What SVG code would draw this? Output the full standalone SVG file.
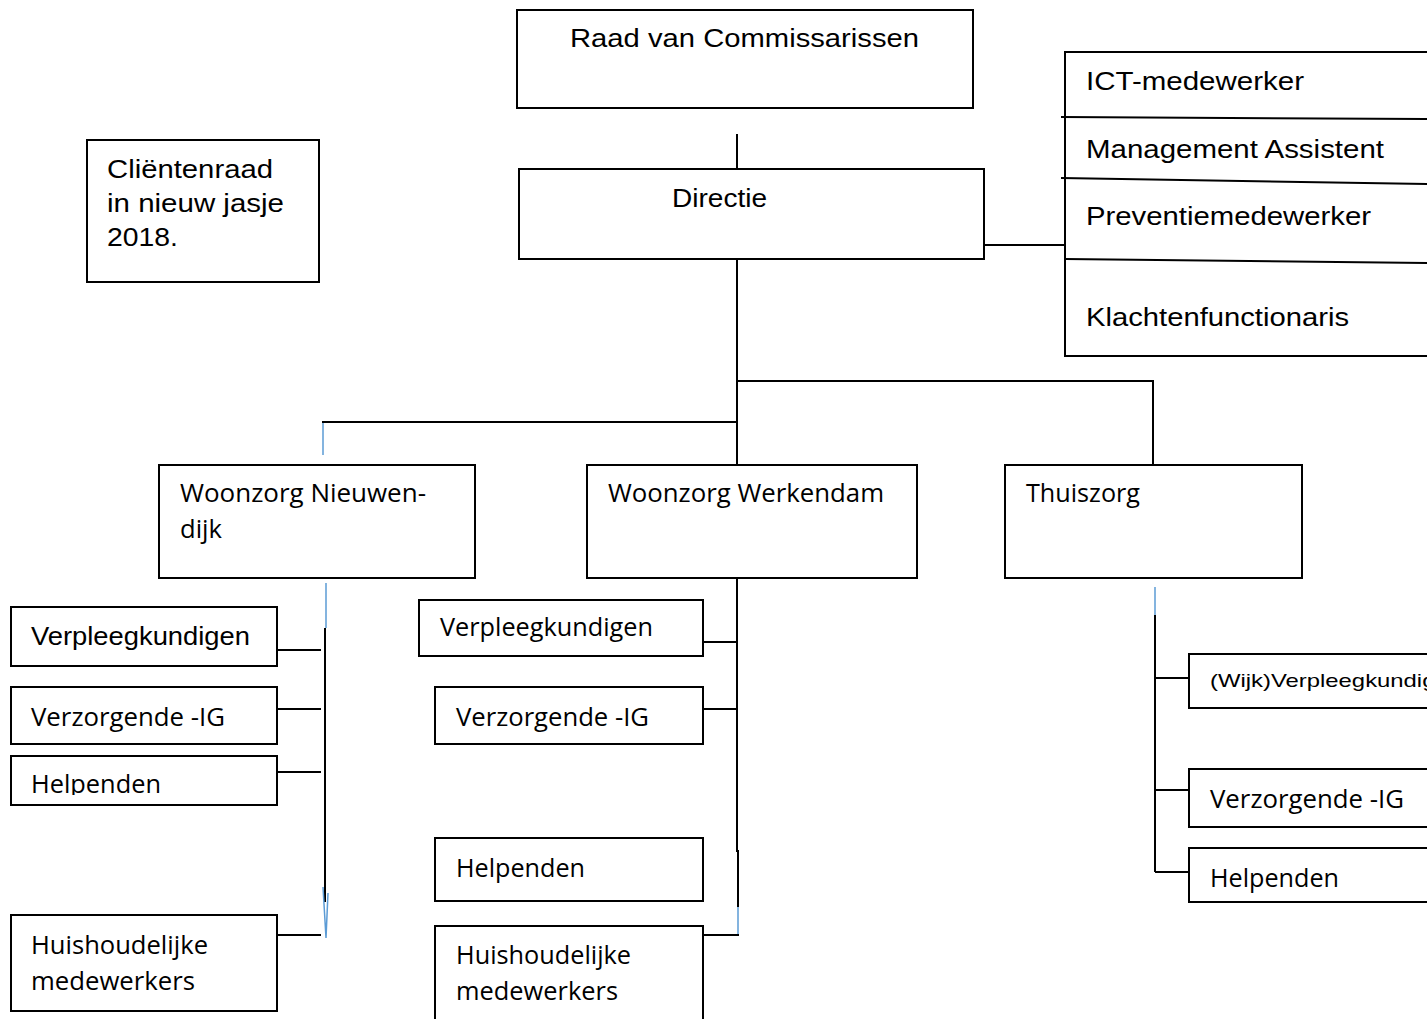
<svg xmlns="http://www.w3.org/2000/svg" width="1427" height="1019" viewBox="0 0 1427 1019">
<style>
.box{fill:#fff;stroke:#000;stroke-width:2}
.ln{stroke:#000;stroke-width:2;fill:none}
.bl{stroke:#5B9BD5;stroke-width:1.5;fill:none}
.a{font-family:"Liberation Sans",Arial,sans-serif;font-size:26px;fill:#000}
.c{font-family:"Open Sans","Noto Sans",sans-serif;font-size:25px;fill:#000}
.s{font-family:"Liberation Sans",Arial,sans-serif;font-size:19px;fill:#000}
</style>
<defs>
<clipPath id="clipHelp"><rect x="11" y="756" width="266" height="39"/></clipPath>
</defs>
<rect width="1427" height="1019" fill="#fff"/>
<g id="connectors">
<line class="ln" x1="737" y1="134" x2="737" y2="169"/>
<line class="ln" x1="984" y1="245" x2="1065" y2="245"/>
<line class="ln" x1="737" y1="259" x2="737" y2="465"/>
<polyline class="ln" points="737,381 1153,381 1153,465"/>
<line class="ln" x1="322" y1="422" x2="737" y2="422"/>
<line class="bl" x1="323" y1="423" x2="323" y2="455"/>
<line class="bl" x1="326" y1="583" x2="326" y2="628"/>
<line class="ln" x1="325" y1="628" x2="325" y2="902"/>
<polyline class="bl" points="323,887 326,938 328,893"/>
<line class="ln" x1="277" y1="650" x2="321" y2="650"/>
<line class="ln" x1="277" y1="709" x2="321" y2="709"/>
<line class="ln" x1="277" y1="772" x2="321" y2="772"/>
<line class="ln" x1="277" y1="935" x2="321" y2="935"/>
<line class="ln" x1="737" y1="578" x2="737" y2="852"/>
<line class="ln" x1="738" y1="850" x2="738" y2="907"/>
<line class="bl" x1="738" y1="907" x2="738" y2="935"/>
<line class="ln" x1="703" y1="642" x2="737" y2="642"/>
<line class="ln" x1="703" y1="709" x2="737" y2="709"/>
<line class="ln" x1="703" y1="935" x2="739" y2="935"/>
<line class="bl" x1="1155" y1="587" x2="1155" y2="615"/>
<line class="ln" x1="1155" y1="615" x2="1155" y2="872"/>
<line class="ln" x1="1155" y1="678" x2="1189" y2="678"/>
<line class="ln" x1="1155" y1="790" x2="1189" y2="790"/>
<line class="ln" x1="1155" y1="872" x2="1189" y2="872"/>
</g>
<g id="raad">
<rect class="box" x="517" y="10" width="456" height="98"/>
<text class="a" x="570" y="47" textLength="349" lengthAdjust="spacingAndGlyphs">Raad van Commissarissen</text>
</g>
<g id="directie">
<rect class="box" x="519" y="169" width="465" height="90"/>
<text class="a" x="672" y="207" textLength="95" lengthAdjust="spacingAndGlyphs">Directie</text>
</g>
<g id="clientenraad">
<rect class="box" x="87" y="140" width="232" height="142"/>
<text class="a" x="107" y="178" textLength="166" lengthAdjust="spacingAndGlyphs">Cliëntenraad</text>
<text class="a" x="107" y="212" textLength="177" lengthAdjust="spacingAndGlyphs">in nieuw jasje</text>
<text class="a" x="107" y="246" textLength="71" lengthAdjust="spacingAndGlyphs">2018.</text>
</g>
<g id="staf">
<rect class="box" x="1065" y="52" width="380" height="304"/>
<line class="ln" x1="1061" y1="117" x2="1427" y2="119"/>
<line class="ln" x1="1061" y1="178" x2="1427" y2="184"/>
<line class="ln" x1="1065" y1="259" x2="1427" y2="263"/>
<text class="a" x="1086" y="90" textLength="218" lengthAdjust="spacingAndGlyphs">ICT-medewerker</text>
<text class="a" x="1086" y="158" textLength="298" lengthAdjust="spacingAndGlyphs">Management Assistent</text>
<text class="a" x="1086" y="225" textLength="285" lengthAdjust="spacingAndGlyphs">Preventiemedewerker</text>
<text class="a" x="1086" y="326" textLength="263" lengthAdjust="spacingAndGlyphs">Klachtenfunctionaris</text>
</g>
<g id="woonzorg-nieuwendijk">
<rect class="box" x="159" y="465" width="316" height="113"/>
<text class="c" x="180" y="502" textLength="246" lengthAdjust="spacingAndGlyphs">Woonzorg Nieuwen-</text>
<text class="c" x="180" y="538" textLength="42" lengthAdjust="spacingAndGlyphs">dijk</text>
</g>
<g id="woonzorg-werkendam">
<rect class="box" x="587" y="465" width="330" height="113"/>
<text class="c" x="608" y="502" textLength="276" lengthAdjust="spacingAndGlyphs">Woonzorg Werkendam</text>
</g>
<g id="thuiszorg">
<rect class="box" x="1005" y="465" width="297" height="113"/>
<text class="c" x="1026" y="502" textLength="114" lengthAdjust="spacingAndGlyphs">Thuiszorg</text>
</g>
<g id="wn-verpleegkundigen">
<rect class="box" x="11" y="607" width="266" height="59"/>
<text class="a" x="31" y="645" textLength="219" lengthAdjust="spacingAndGlyphs">Verpleegkundigen</text>
</g>
<g id="wn-verzorgende">
<rect class="box" x="11" y="687" width="266" height="57"/>
<text class="c" x="31" y="726" textLength="194" lengthAdjust="spacingAndGlyphs">Verzorgende -IG</text>
</g>
<g id="wn-helpenden">
<rect class="box" x="11" y="756" width="266" height="49"/>
<text class="c" x="31" y="793" textLength="130" lengthAdjust="spacingAndGlyphs" clip-path="url(#clipHelp)">Helpenden</text>
</g>
<g id="wn-huishoudelijk">
<rect class="box" x="11" y="915" width="266" height="96"/>
<text class="c" x="31" y="954" textLength="177" lengthAdjust="spacingAndGlyphs">Huishoudelijke</text>
<text class="c" x="31" y="990" textLength="164" lengthAdjust="spacingAndGlyphs">medewerkers</text>
</g>
<g id="ww-verpleegkundigen">
<rect class="box" x="419" y="600" width="284" height="56"/>
<text class="c" x="440" y="636" textLength="213" lengthAdjust="spacingAndGlyphs">Verpleegkundigen</text>
</g>
<g id="ww-verzorgende">
<rect class="box" x="435" y="687" width="268" height="57"/>
<text class="c" x="456" y="726" textLength="193" lengthAdjust="spacingAndGlyphs">Verzorgende -IG</text>
</g>
<g id="ww-helpenden">
<rect class="box" x="435" y="838" width="268" height="63"/>
<text class="c" x="456" y="877" textLength="129" lengthAdjust="spacingAndGlyphs">Helpenden</text>
</g>
<g id="ww-huishoudelijk">
<path class="ln" d="M435,1025 V926 H703 V1025"/>
<text class="c" x="456" y="964" textLength="175" lengthAdjust="spacingAndGlyphs">Huishoudelijke</text>
<text class="c" x="456" y="1000" textLength="162" lengthAdjust="spacingAndGlyphs">medewerkers</text>
</g>
<g id="tz-wijkverpleegkundigen">
<rect class="box" x="1189" y="654" width="260" height="54"/>
<text class="s" x="1210" y="687" textLength="252" lengthAdjust="spacingAndGlyphs">(Wijk)Verpleegkundigen</text>
</g>
<g id="tz-verzorgende">
<rect class="box" x="1189" y="769" width="260" height="58"/>
<text class="c" x="1210" y="808" textLength="194" lengthAdjust="spacingAndGlyphs">Verzorgende -IG</text>
</g>
<g id="tz-helpenden">
<rect class="box" x="1189" y="848" width="260" height="54"/>
<text class="c" x="1210" y="887" textLength="129" lengthAdjust="spacingAndGlyphs">Helpenden</text>
</g>
</svg>
